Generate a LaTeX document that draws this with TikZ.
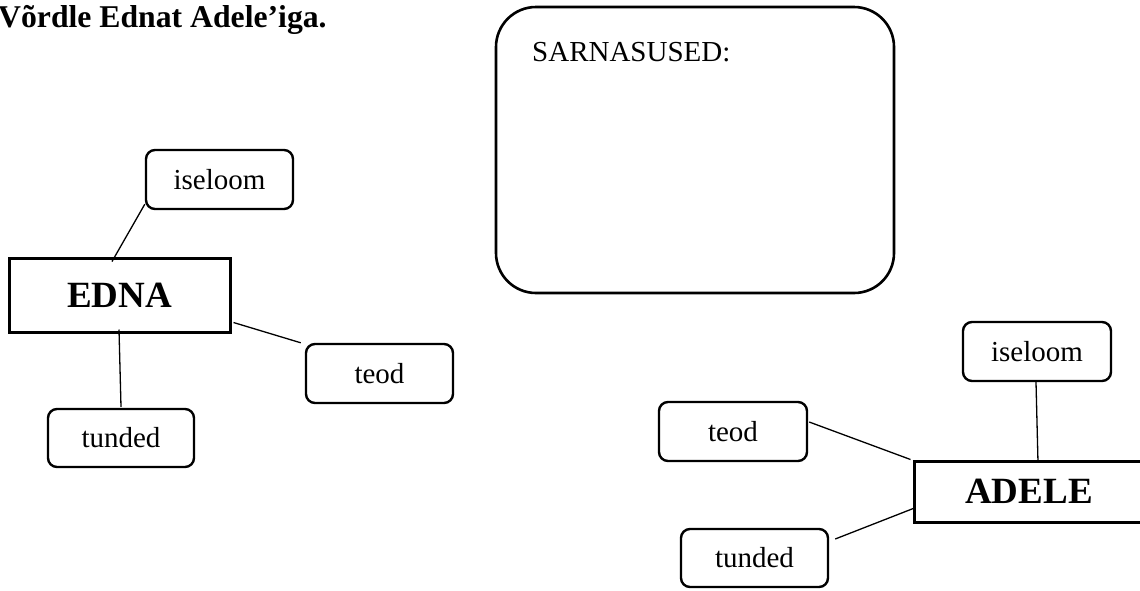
\documentclass[tikz,border=0pt]{standalone}
\usepackage{fontspec}
\setmainfont{Liberation Serif}
\begin{document}
\begin{tikzpicture}[x=1pt,y=-1pt,
  smallbox/.style={draw, line width=2.4pt, rounded corners=9pt, inner sep=0pt,
    font=\fontsize{29}{34}\selectfont},
  bigbox/.style={draw, line width=3pt, inner sep=0pt,
    font=\bfseries\fontsize{37}{44}\selectfont},
  conn/.style={line width=1.3pt}]
\path[use as bounding box, clip] (0,0) rectangle (1140,590);

% title
\node[anchor=base west, inner sep=0pt, font=\bfseries\fontsize{31.7}{38}\selectfont]
  (title) at (-2,27) {Võrdle Ednat Adele’iga.};

% similarities box
\node[draw, line width=2.6pt, rounded corners=40pt, minimum width=398pt, minimum height=286pt, inner sep=0pt]
  (sarn) at (695,150) {};
\node[anchor=base west, inner sep=0pt, font=\fontsize{29}{34}\selectfont]
  (sarntext) at (532,61) {SARNASUSED:};

% EDNA group
\node[bigbox, minimum width=221pt, minimum height=74pt] (edna) at (119.5,295) {EDNA};
\node[smallbox, minimum width=147pt, minimum height=59pt] (ei) at (219.5,179.5) {iseloom};
\node[smallbox, minimum width=147pt, minimum height=59pt] (et) at (379.5,373.5) {teod};
\node[smallbox, minimum width=146pt, minimum height=58pt] (etu) at (121,438) {tunded};

\draw[conn] ([shift={(0,-6)}]ei.south west) -- ([shift={(-7.5,5)}]edna.north);
\draw[conn] ([shift={(2,-11)}]edna.south east) -- ([shift={(-4,0)}]et.north west);
\draw[conn] ([shift={(-0.5,-4)}]edna.south) -- ([shift={(0,-1)}]etu.north);

% ADELE group
\node[bigbox, minimum width=230pt, minimum height=61pt] (adele) at (1029,491.5) {ADELE};
\node[smallbox, minimum width=148pt, minimum height=59pt] (ai) at (1037,351.5) {iseloom};
\node[smallbox, minimum width=148pt, minimum height=59pt] (at) at (733,431.5) {teod};
\node[smallbox, minimum width=147pt, minimum height=58pt] (atu) at (754.5,558) {tunded};

\draw[conn] ([shift={(-1,0)}]ai.south) -- ([shift={(9,3)}]adele.north);
\draw[conn] ([shift={(1,-9.5)}]at.east) -- ([shift={(-2,0)}]adele.north west);
\draw[conn] ([shift={(6,-19)}]atu.east) -- ([shift={(2,16.5)}]adele.west);
\end{tikzpicture}
\end{document}
